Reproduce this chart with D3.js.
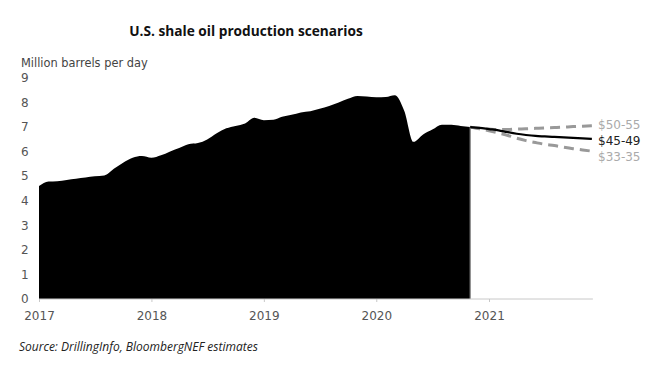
<!DOCTYPE html>
<html>
<head>
<meta charset="utf-8">
<script src="https://cdn.jsdelivr.net/npm/d3@7"></script>
<style>
  body { margin: 0; background: #fff; }
  svg { display: block; }
</style>
</head>
<body>
<div id="chart"></div>
<script>
// actual production, monthly from Jan 2017 to Nov 2020 (million b/d)
var histStart = "2017-01";
var production = [4.6, 4.78, 4.8, 4.85, 4.9, 4.95, 5.0, 5.03, 5.3, 5.55, 5.75, 5.82,
                  5.75, 5.85, 6.0, 6.15, 6.3, 6.35, 6.5, 6.75, 6.95, 7.05, 7.15, 7.38,
                  7.28, 7.3, 7.42, 7.5, 7.6, 7.65, 7.75, 7.86, 8.0, 8.15, 8.27, 8.25,
                  8.22, 8.23, 8.3, 7.66, 6.4, 6.7, 6.9, 7.1, 7.1, 7.05, 7.0];

// scenarios, monthly from Nov 2020 to Dec 2021
var scenStart = "2020-11";
var scenarioNames = ["$50-55", "$45-49", "$33-35"];
var high = [7.0, 6.95, 6.92, 6.9, 6.9, 6.92, 6.93, 6.95, 6.97, 6.98, 7.0, 7.02, 7.04, 7.06];
var mid  = [7.0, 6.97, 6.92, 6.87, 6.8, 6.73, 6.68, 6.64, 6.62, 6.6, 6.58, 6.56, 6.54, 6.52];
var low  = [7.0, 6.93, 6.85, 6.76, 6.67, 6.55, 6.45, 6.37, 6.3, 6.25, 6.18, 6.12, 6.07, 6.02];

var yTicks = [0, 1, 2, 3, 4, 5, 6, 7, 8, 9];
var xTicks = ["2017", "2018", "2019", "2020", "2021"];

var width = 659, height = 370;
var parseMonth = d3.timeParse("%Y-%m");
var parseYear = d3.timeParse("%Y");

var svg = d3.select("#chart").append("svg")
    .attr("width", width)
    .attr("height", height);

var x = d3.scaleTime()
    .domain([parseYear("2017"), parseYear("2021")])
    .range([39, 489]);
var y = d3.scaleLinear()
    .domain([0, 9])
    .range([299, 78]);

function monthSeries(start, values) {
    var s = parseMonth(start);
    return values.map(function(v, i) {
        return { date: d3.timeMonth.offset(s, i), value: v };
    });
}

var histData = monthSeries(histStart, production);
var highData = monthSeries(scenStart, high);
var midData = monthSeries(scenStart, mid);
var lowData = monthSeries(scenStart, low);

// title
svg.append("text")
    .attr("x", 246).attr("y", 36)
    .attr("text-anchor", "middle")
    .style("font-family", "'Open Sans', sans-serif")
    .style("font-weight", "bold")
    .style("font-size", "13.7px")
    .style("fill", "#111")
    .text("U.S. shale oil production scenarios");

svg.append("text")
    .attr("x", 21).attr("y", 67)
    .style("font-family", "'DejaVu Sans', sans-serif")
    .style("font-size", "11.4px")
    .style("fill", "#444")
    .text("Million barrels per day");

// area
var area = d3.area()
    .x(function(d) { return x(d.date); })
    .y0(y(0))
    .y1(function(d) { return y(d.value); })
    .curve(d3.curveMonotoneX);

svg.append("path")
    .datum(histData)
    .attr("d", area)
    .attr("fill", "#000");

var lastHist = histData[histData.length - 1];
svg.append("line")
    .attr("x1", x(lastHist.date)).attr("x2", x(lastHist.date))
    .attr("y1", y(lastHist.value)).attr("y2", y(0))
    .attr("stroke", "#888")
    .attr("stroke-width", 1.2);

// x axis
var xAxisG = svg.append("g")
    .attr("transform", "translate(0," + y(0) + ")")
    .call(d3.axisBottom(x)
        .tickValues(xTicks.map(parseYear))
        .tickFormat(d3.timeFormat("%Y"))
        .tickSize(3)
        .tickPadding(9));
xAxisG.select(".domain").remove();
xAxisG.append("line")
    .attr("x1", x(parseYear("2017"))).attr("x2", x(parseMonth("2021-12")) + 1)
    .attr("stroke", "#c8c8c8");
xAxisG.selectAll(".tick line").attr("stroke", "#c8c8c8");
xAxisG.selectAll(".tick text")
    .style("font-family", "'DejaVu Sans', sans-serif")
    .style("font-size", "12px")
    .style("fill", "#555");

// y tick labels
svg.selectAll(".ylab")
    .data(yTicks)
    .enter().append("text")
    .attr("class", "ylab")
    .attr("x", 21)
    .attr("y", function(d) { return y(d); })
    .attr("dy", "0.35em")
    .style("font-family", "'DejaVu Sans', sans-serif")
    .style("font-size", "12px")
    .style("fill", "#555")
    .text(function(d) { return d; });

// scenario lines
var line = d3.line()
    .x(function(d) { return x(d.date); })
    .y(function(d) { return y(d.value); })
    .curve(d3.curveMonotoneX);

svg.append("path").datum(highData).attr("d", line)
    .attr("fill", "none").attr("stroke", "#999")
    .attr("stroke-width", 3).attr("stroke-dasharray", "10,6");
svg.append("path").datum(lowData).attr("d", line)
    .attr("fill", "none").attr("stroke", "#999")
    .attr("stroke-width", 3).attr("stroke-dasharray", "10,6");
svg.append("path").datum(midData).attr("d", line)
    .attr("fill", "none").attr("stroke", "#000")
    .attr("stroke-width", 2.2);

// scenario labels
var labelY = [125, 141, 157];
var labelColor = ["#aaa", "#222", "#aaa"];
svg.selectAll(".slab")
    .data(scenarioNames)
    .enter().append("text")
    .attr("class", "slab")
    .attr("x", 598)
    .attr("y", function(d, i) { return labelY[i]; })
    .attr("dy", "0.35em")
    .style("font-family", "'DejaVu Sans', sans-serif")
    .style("font-size", "12px")
    .style("fill", function(d, i) { return labelColor[i]; })
    .text(function(d) { return d; });

// source
svg.append("text")
    .attr("x", 19).attr("y", 351)
    .style("font-family", "'Open Sans', sans-serif")
    .style("font-style", "italic")
    .style("font-size", "12px")
    .style("fill", "#222")
    .text("Source: DrillingInfo, BloombergNEF estimates");
</script>
</body>
</html>
